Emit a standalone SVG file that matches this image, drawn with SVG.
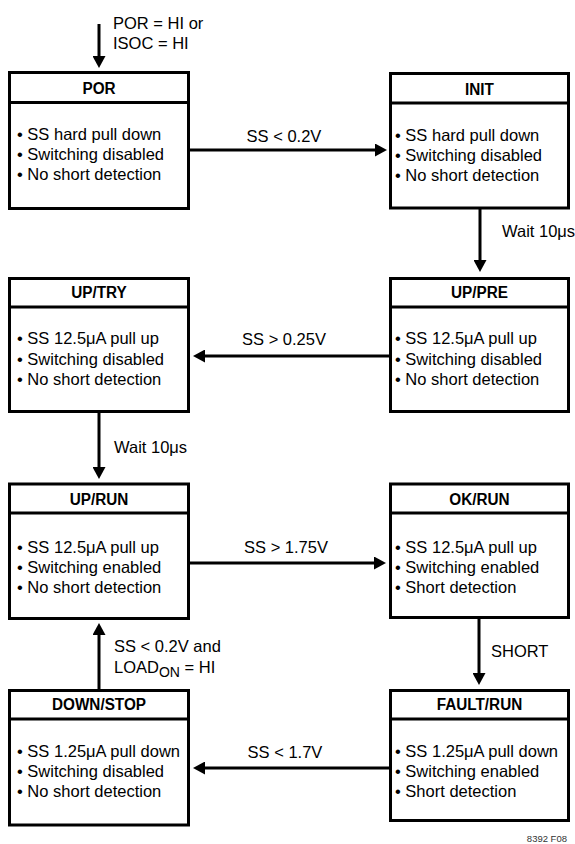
<svg xmlns="http://www.w3.org/2000/svg" width="575" height="844" viewBox="0 0 575 844">
<defs>
<style>
.box{fill:#fff;stroke:#000;stroke-width:3}
.div{stroke:#000;stroke-width:3}
.ttl{font-family:"Liberation Sans",Arial,sans-serif;font-weight:bold;font-size:17px;text-anchor:middle;fill:#000}
.txt{font-family:"Liberation Sans",Arial,sans-serif;font-size:16.5px;fill:#000}
.lbl{font-family:"Liberation Sans",Arial,sans-serif;font-size:16.5px;fill:#000}
.mid{text-anchor:middle}
.con{stroke:#000;stroke-width:3;fill:none;marker-end:url(#ah)}
.fig{font-family:"Liberation Sans",Arial,sans-serif;font-size:9.5px;fill:#333}
</style>
<marker id="ah" markerUnits="userSpaceOnUse" markerWidth="13" markerHeight="13" refX="2" refY="6.5" orient="auto">
<path d="M0,0 L12,6.5 L0,13 z" fill="#000"/>
</marker>
</defs>

<g id="connectors">
<line class="con" x1="99" y1="24" x2="99" y2="58"/>
<line class="con" x1="190" y1="150" x2="377" y2="150"/>
<line class="con" x1="480" y1="209" x2="480" y2="262"/>
<line class="con" x1="389" y1="356" x2="203" y2="356"/>
<line class="con" x1="99" y1="413" x2="99" y2="469"/>
<line class="con" x1="190" y1="563" x2="376" y2="563"/>
<line class="con" x1="479" y1="619" x2="479" y2="675"/>
<line class="con" x1="389" y1="768" x2="203" y2="768"/>
<line class="con" x1="99" y1="689" x2="99" y2="633"/>
<text class="lbl" x="113" y="29">POR = HI or</text>
<text class="lbl" x="113" y="49">ISOC = HI</text>
<text class="lbl mid" x="284" y="142">SS &lt; 0.2V</text>
<text class="lbl" x="502" y="237">Wait 10μs</text>
<text class="lbl mid" x="284" y="345">SS &gt; 0.25V</text>
<text class="lbl" x="114" y="453">Wait 10μs</text>
<text class="lbl mid" x="286" y="553">SS &gt; 1.75V</text>
<text class="lbl" x="114" y="652">SS &lt; 0.2V and</text>
<text class="lbl" x="114" y="673">LOAD<tspan font-size="14" dy="4">ON</tspan><tspan dy="-4"> = HI</tspan></text>
<text class="lbl" x="491" y="657">SHORT</text>
<text class="lbl mid" x="285" y="758">SS &lt; 1.7V</text>
</g>

<g id="por">
<rect class="box" x="9.5" y="72.5" width="179" height="136"/>
<line class="div" x1="9.5" y1="102.5" x2="188.5" y2="102.5"/>
<text class="ttl" transform="translate(99,94) scale(0.9,1)">POR</text>
<text class="txt" x="17" y="140">• SS hard pull down</text>
<text class="txt" x="17" y="160">• Switching disabled</text>
<text class="txt" x="17" y="180">• No short detection</text>
</g>

<g id="init">
<rect class="box" x="390.5" y="73.5" width="178" height="134.5"/>
<line class="div" x1="390.5" y1="103" x2="568.5" y2="103"/>
<text class="ttl" transform="translate(479.5,95) scale(0.9,1)">INIT</text>
<text class="txt" x="395" y="141">• SS hard pull down</text>
<text class="txt" x="395" y="161">• Switching disabled</text>
<text class="txt" x="395" y="181">• No short detection</text>
</g>

<g id="uptry">
<rect class="box" x="9.5" y="278.5" width="179" height="133"/>
<line class="div" x1="9.5" y1="307" x2="188.5" y2="307"/>
<text class="ttl" transform="translate(99,298) scale(0.9,1)">UP/TRY</text>
<text class="txt" x="17" y="344">• SS 12.5μA pull up</text>
<text class="txt" x="17" y="365">• Switching disabled</text>
<text class="txt" x="17" y="385">• No short detection</text>
</g>

<g id="uppre">
<rect class="box" x="390.5" y="278.5" width="178" height="133"/>
<line class="div" x1="390.5" y1="307" x2="568.5" y2="307"/>
<text class="ttl" transform="translate(479.5,298) scale(0.9,1)">UP/PRE</text>
<text class="txt" x="395" y="344">• SS 12.5μA pull up</text>
<text class="txt" x="395" y="365">• Switching disabled</text>
<text class="txt" x="395" y="385">• No short detection</text>
</g>

<g id="uprun">
<rect class="box" x="9.5" y="484" width="179" height="134.5"/>
<line class="div" x1="9.5" y1="513" x2="188.5" y2="513"/>
<text class="ttl" transform="translate(99,505) scale(0.9,1)">UP/RUN</text>
<text class="txt" x="17" y="553">• SS 12.5μA pull up</text>
<text class="txt" x="17" y="573">• Switching enabled</text>
<text class="txt" x="17" y="593">• No short detection</text>
</g>

<g id="okrun">
<rect class="box" x="390.5" y="484" width="178" height="133.5"/>
<line class="div" x1="390.5" y1="513" x2="568.5" y2="513"/>
<text class="ttl" transform="translate(479.5,505) scale(0.9,1)">OK/RUN</text>
<text class="txt" x="395" y="553">• SS 12.5μA pull up</text>
<text class="txt" x="395" y="573">• Switching enabled</text>
<text class="txt" x="395" y="593">• Short detection</text>
</g>

<g id="downstop">
<rect class="box" x="9.5" y="690.5" width="179" height="134.5"/>
<line class="div" x1="9.5" y1="719" x2="188.5" y2="719"/>
<text class="ttl" transform="translate(99,710) scale(0.9,1)">DOWN/STOP</text>
<text class="txt" x="17" y="757">• SS 1.25μA pull down</text>
<text class="txt" x="17" y="777">• Switching disabled</text>
<text class="txt" x="17" y="797">• No short detection</text>
</g>

<g id="faultrun">
<rect class="box" x="390.5" y="690.5" width="178" height="130"/>
<line class="div" x1="390.5" y1="719" x2="568.5" y2="719"/>
<text class="ttl" transform="translate(479.5,710) scale(0.9,1)">FAULT/RUN</text>
<text class="txt" x="395" y="757">• SS 1.25μA pull down</text>
<text class="txt" x="395" y="777">• Switching enabled</text>
<text class="txt" x="395" y="797">• Short detection</text>
</g>

<text class="fig" x="567" y="842" text-anchor="end">8392 F08</text>
</svg>
